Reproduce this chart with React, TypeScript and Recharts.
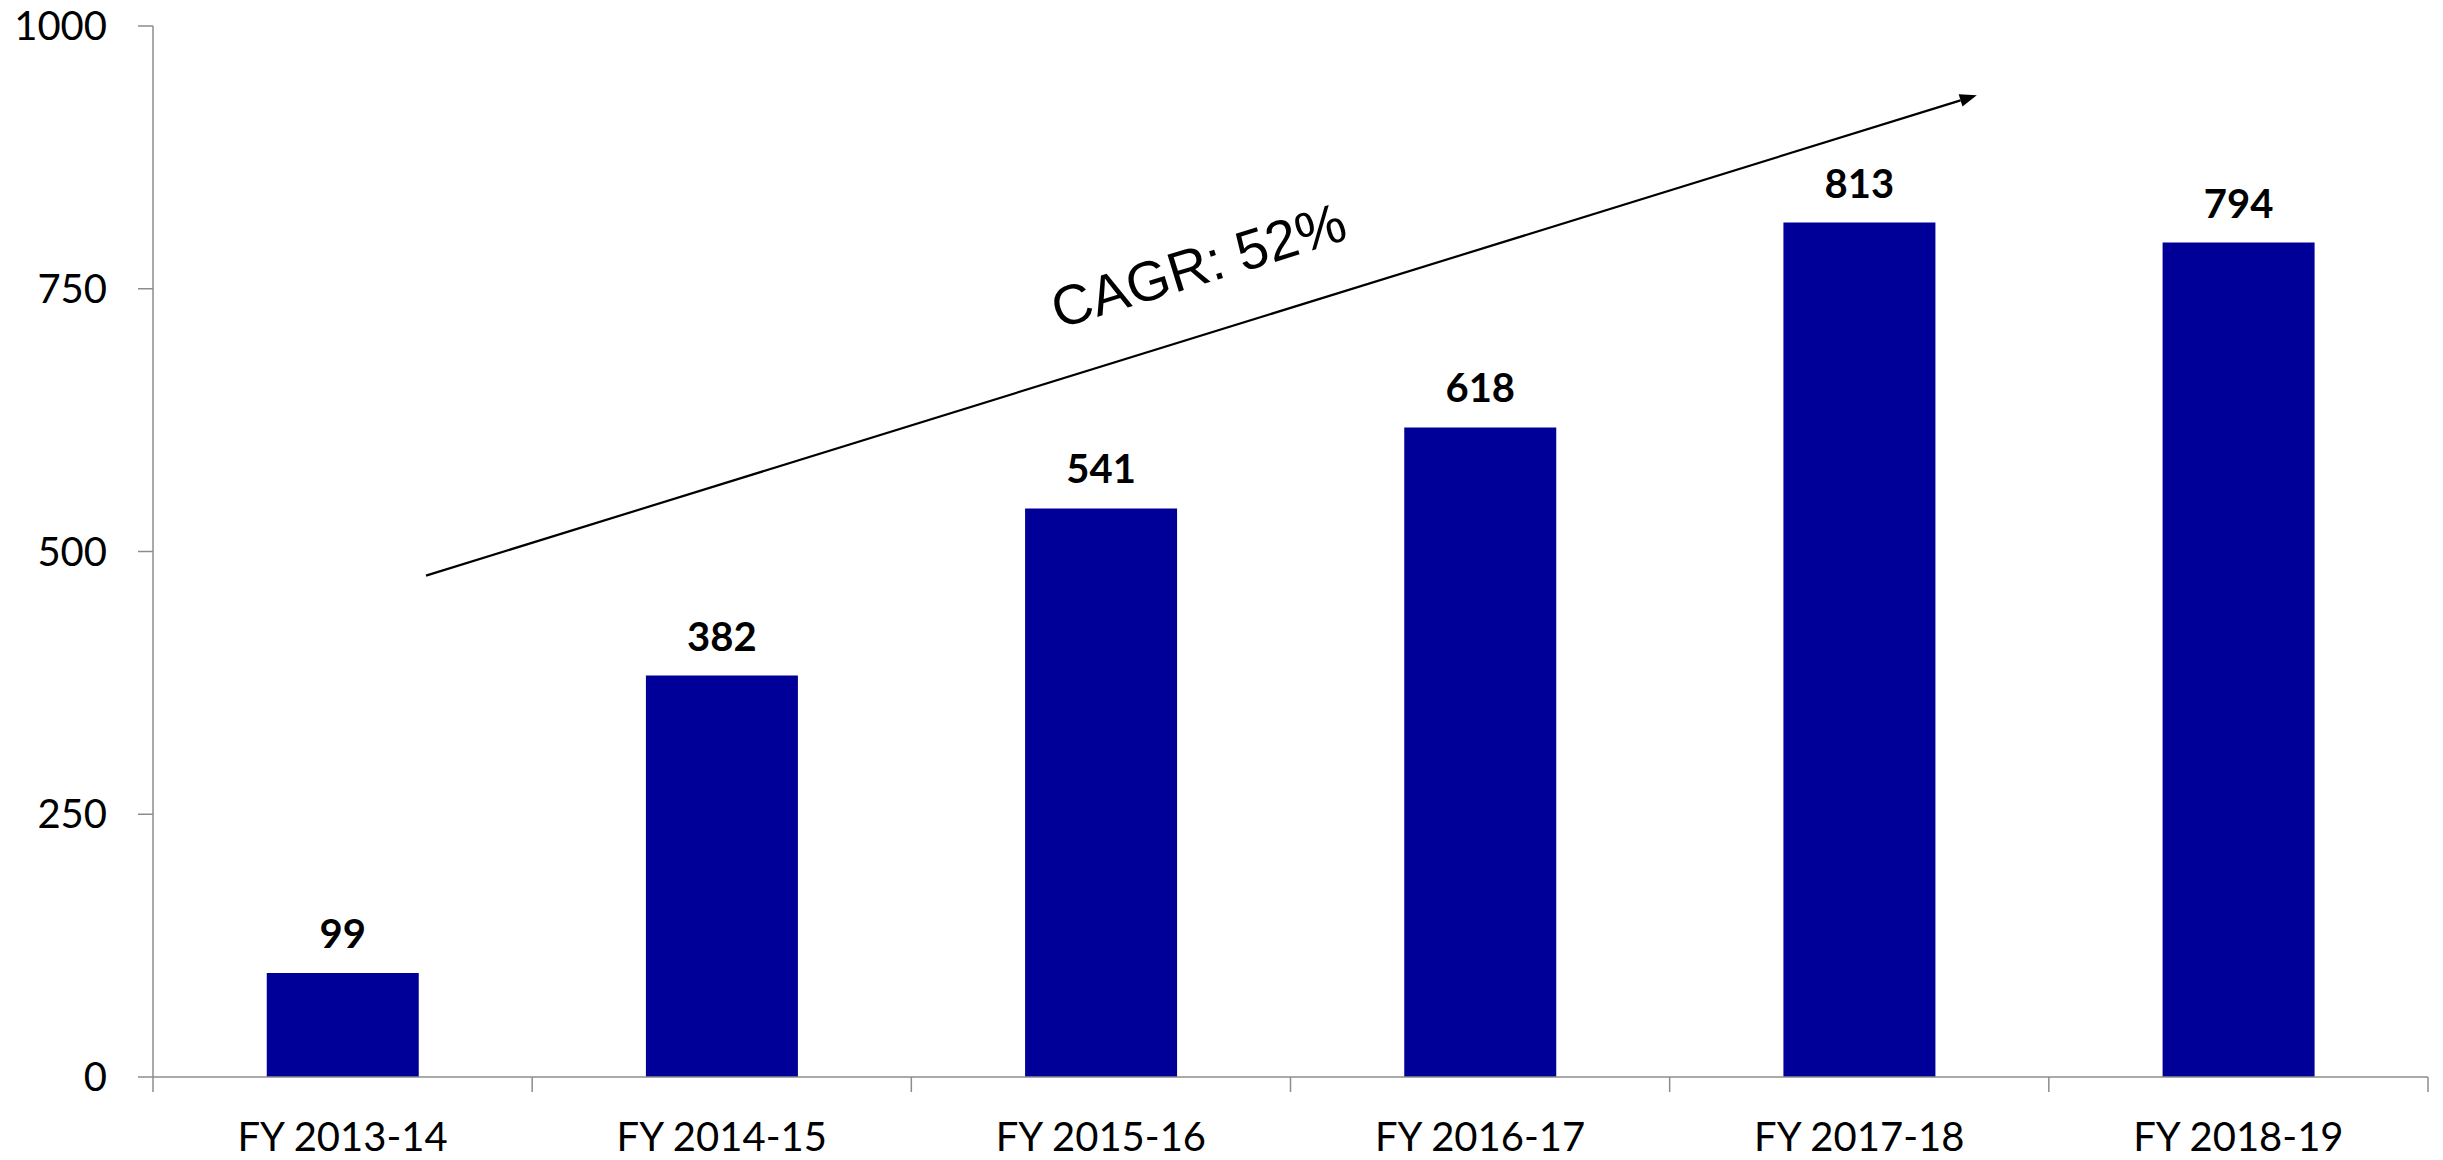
import React from 'react';
import { BarChart, Bar, XAxis, YAxis, LabelList, ReferenceLine } from 'recharts';

const categories = ['FY 2013-14', 'FY 2014-15', 'FY 2015-16', 'FY 2016-17', 'FY 2017-18', 'FY 2018-19'];
const values = [99, 382, 541, 618, 813, 794];
const yTicks = [0, 250, 500, 750, 1000];
const trendStart = { x: 0.72, y: 477 };
const trendEnd = { x: 4.81, y: 934 };
const trendLabel = 'CAGR: 52%';

const data = categories.map((c, i) => ({ year: c, value: values[i], idx: i }));

const AXIS = '#8c8c8c';
const TICK_SIZE = 15;
const X_TICK_MARGIN = 31;

const XTick = (props: any) => {
  const { x, y, payload, index, visibleTicksCount, width } = props;
  let half = payload && payload.offset ? payload.offset : width / visibleTicksCount / 2;
  const axisY = y - X_TICK_MARGIN - TICK_SIZE;
  return (
    <g>
      <line x1={x - half} x2={x - half} y1={axisY} y2={axisY + TICK_SIZE} stroke={AXIS} strokeWidth={1.5} />
      {index === visibleTicksCount - 1 && (
        <line x1={x + half} x2={x + half} y1={axisY} y2={axisY + TICK_SIZE} stroke={AXIS} strokeWidth={1.5} />
      )}
      <text x={x} y={y} dy="0.71em" textAnchor="middle" fontFamily="Lato" fontSize={40} fill="#000">
        {payload.value}
      </text>
    </g>
  );
};

const ArrowShape = (props: any) => {
  const { x1, y1, x2, y2 } = props;
  if ([x1, y1, x2, y2].some((v) => typeof v !== 'number' || isNaN(v))) return null;
  const dx = x2 - x1;
  const dy = y2 - y1;
  const len = Math.sqrt(dx * dx + dy * dy);
  const ux = dx / len;
  const uy = dy / len;
  const nx = -uy;
  const ny = ux;
  const headL = 17;
  const headW = 6.5;
  const bx = x2 - ux * headL;
  const by = y2 - uy * headL;
  const angle = (Math.atan2(dy, dx) * 180) / Math.PI;
  const mx = (x1 + x2) / 2;
  const my = (y1 + y2) / 2;
  const along = 18;
  const perp = 68;
  const upx = uy;
  const upy = -ux;
  const tx = mx + ux * along + upx * perp;
  const ty = my + uy * along + upy * perp;
  return (
    <g>
      <line x1={x1} y1={y1} x2={bx} y2={by} stroke="#000" strokeWidth={2.2} />
      <polygon
        points={`${x2},${y2} ${bx + nx * headW},${by + ny * headW} ${bx - nx * headW},${by - ny * headW}`}
        fill="#000"
      />
      <text
        x={tx}
        y={ty}
        textAnchor="middle"
        dominantBaseline="central"
        fontFamily="'Liberation Sans', Arial, sans-serif"
        fontSize={56}
        fill="#000"
        transform={`rotate(${angle} ${tx} ${ty})`}
      >
        {trendLabel}
      </text>
    </g>
  );
};

export default function App() {
  return (
    <div style={{ position: 'absolute', left: 0, top: 0, width: 2443, height: 1160, background: '#fff' }}>
      <BarChart
        width={2443}
        height={1160}
        data={data}
        margin={{ top: 26, right: 15, bottom: 0, left: 0 }}
        barCategoryGap="30%"
      >
        <XAxis
          dataKey="year"
          height={83}
          tickSize={TICK_SIZE}
          tickMargin={X_TICK_MARGIN}
          tickLine={false}
          axisLine={{ stroke: AXIS, strokeWidth: 1.5 }}
          tick={<XTick />}
          interval={0}
        />
        <XAxis xAxisId="num" dataKey="idx" type="number" domain={[0, 6]} allowDataOverflow hide />
        <YAxis
          width={153}
          domain={[0, 1000]}
          ticks={yTicks}
          tickSize={TICK_SIZE}
          tickMargin={31}
          axisLine={{ stroke: AXIS, strokeWidth: 1.5 }}
          tickLine={{ stroke: AXIS, strokeWidth: 1.5 }}
          tick={{ fill: '#000', fontSize: 40, fontFamily: 'Lato' }}
          interval={0}
        />
        <Bar dataKey="value" fill="#000099" isAnimationActive={false}>
          <LabelList
            dataKey="value"
            position="top"
            offset={25}
            fill="#000"
            fontFamily="Lato"
            fontWeight="bold"
            fontSize={40}
          />
        </Bar>
        <ReferenceLine
          xAxisId="num"
          segment={[trendStart, trendEnd]}
          ifOverflow="visible"
          shape={<ArrowShape />}
        />
      </BarChart>
    </div>
  );
}
